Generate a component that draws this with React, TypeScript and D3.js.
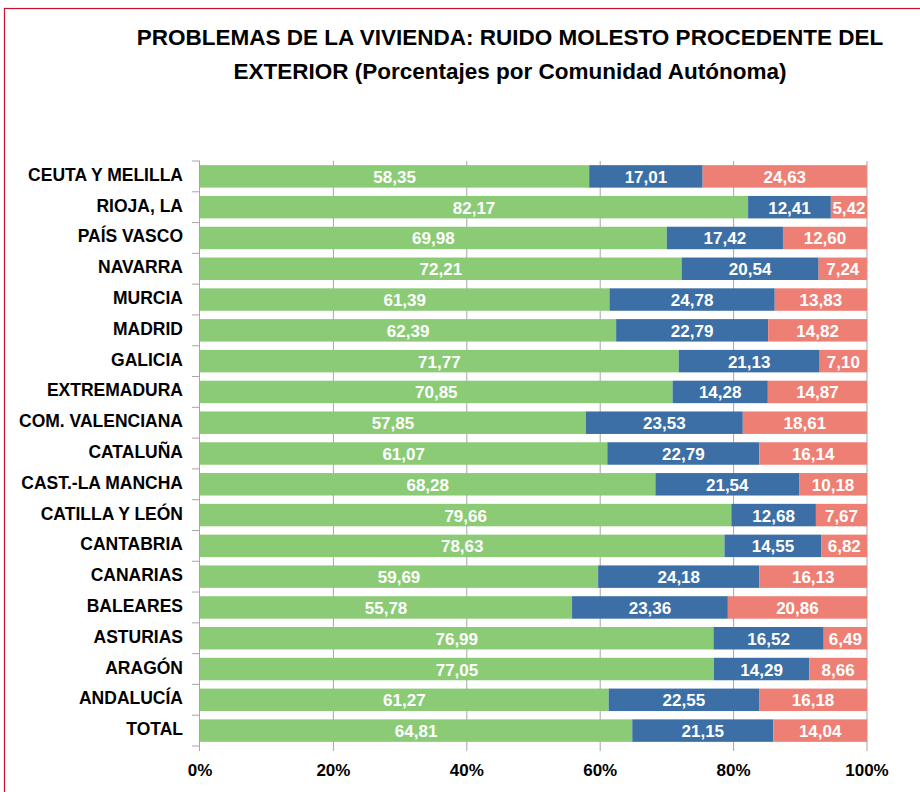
import React, { useEffect, useRef } from 'react';
import * as d3 from 'd3';

const regions = [
  'CEUTA Y MELILLA', 'RIOJA, LA', 'PAÍS VASCO', 'NAVARRA', 'MURCIA', 'MADRID', 'GALICIA',
  'EXTREMADURA', 'COM. VALENCIANA', 'CATALUÑA', 'CAST.-LA MANCHA', 'CATILLA Y LEÓN',
  'CANTABRIA', 'CANARIAS', 'BALEARES', 'ASTURIAS', 'ARAGÓN', 'ANDALUCÍA', 'TOTAL'
];
const noRuido = [58.35, 82.17, 69.98, 72.21, 61.39, 62.39, 71.77, 70.85, 57.85, 61.07, 68.28, 79.66, 78.63, 59.69, 55.78, 76.99, 77.05, 61.27, 64.81];
const ruidoPoco = [17.01, 12.41, 17.42, 20.54, 24.78, 22.79, 21.13, 14.28, 23.53, 22.79, 21.54, 12.68, 14.55, 24.18, 23.36, 16.52, 14.29, 22.55, 21.15];
const ruidoMucho = [24.63, 5.42, 12.60, 7.24, 13.83, 14.82, 7.10, 14.87, 18.61, 16.14, 10.18, 7.67, 6.82, 16.13, 20.86, 6.49, 8.66, 16.18, 14.04];
const seriesKeys = ['a', 'b', 'c'];
const seriesColors = ['#8bcb76', '#3c6fa6', '#ee7f75'];
const xTicks = [0, 20, 40, 60, 80, 100];

const fmt = (v: number) => v.toFixed(2).replace('.', ',');

const App = () => {
  const ref = useRef<SVGSVGElement>(null);

  useEffect(() => {
    const svg = d3.select(ref.current);
    svg.selectAll('*').remove();
    const font = '"Liberation Sans", Arial, Helvetica, sans-serif';

    // frame
    svg.append('rect')
      .attr('x', 4.5).attr('y', 8.5).attr('width', 940).attr('height', 820)
      .attr('fill', 'none').attr('stroke', '#c8102e').attr('stroke-width', 1.2);

    // title
    const title = svg.append('text')
      .attr('text-anchor', 'middle')
      .style('font-family', font).style('font-weight', 'bold').style('font-size', '22.5px')
      .attr('fill', '#000');
    title.append('tspan').attr('x', 510).attr('y', 45)
      .text('PROBLEMAS DE LA VIVIENDA: RUIDO MOLESTO PROCEDENTE DEL');
    title.append('tspan').attr('x', 510).attr('y', 79)
      .text('EXTERIOR (Porcentajes por Comunidad Autónoma)');

    const left = 200, right = 867, top = 161, bottom = 746;
    const x = d3.scaleLinear().domain([0, 100]).range([left, right]);
    const y = d3.scaleBand().domain(regions).range([top, bottom]).paddingInner(0.27).paddingOuter(0.135);

    const rows = regions.map((r, i) => ({ region: r, a: noRuido[i], b: ruidoPoco[i], c: ruidoMucho[i] }));
    const stacked = d3.stack<any>().keys(seriesKeys)(rows);

    // gridlines
    svg.append('g').selectAll('line').data(xTicks.slice(1)).join('line')
      .attr('x1', d => x(d)).attr('x2', d => x(d))
      .attr('y1', top).attr('y2', bottom + 5)
      .attr('stroke', '#a6a6a6').attr('stroke-width', 1);

    // bars
    stacked.forEach((s, si) => {
      const g = svg.append('g');
      g.selectAll('rect').data(s).join('rect')
        .attr('x', d => x(d[0]))
        .attr('y', d => y(d.data.region)!)
        .attr('width', d => x(d[1]) - x(d[0]))
        .attr('height', y.bandwidth())
        .attr('fill', seriesColors[si]);
      g.selectAll('text').data(s).join('text')
        .attr('x', d => (x(d[0]) + x(d[1])) / 2)
        .attr('y', d => y(d.data.region)! + y.bandwidth() / 2 + 6.5)
        .attr('text-anchor', 'middle')
        .style('font-family', font).style('font-weight', 'bold').style('font-size', '17px')
        .attr('fill', '#fff')
        .text(d => fmt(d[1] - d[0]));
    });

    // y axis
    const step = y.step();
    svg.append('line')
      .attr('x1', left - 0.5).attr('x2', left - 0.5).attr('y1', top).attr('y2', bottom + 5)
      .attr('stroke', '#a6a6a6');
    svg.append('g').selectAll('line').data(d3.range(regions.length + 1)).join('line')
      .attr('x1', left - 8).attr('x2', left)
      .attr('y1', i => top + i * step).attr('y2', i => top + i * step)
      .attr('stroke', '#a6a6a6');
    svg.append('g').selectAll('text').data(regions).join('text')
      .attr('x', 183)
      .attr('y', d => y(d)! + y.bandwidth() / 2 + 4.5)
      .attr('text-anchor', 'end')
      .style('font-family', font).style('font-weight', 'bold').style('font-size', '17.5px')
      .attr('fill', '#000')
      .text(d => d);

    // x axis labels
    svg.append('g').selectAll('text').data(xTicks).join('text')
      .attr('x', d => x(d))
      .attr('y', 776)
      .attr('text-anchor', 'middle')
      .style('font-family', font).style('font-weight', 'bold').style('font-size', '17px')
      .attr('fill', '#000')
      .text(d => d + '%');
  }, []);

  return (
    <svg ref={ref} width={920} height={792}
      style={{ position: 'absolute', left: 0, top: 0, background: '#fff' }} />
  );
};

export default App;
